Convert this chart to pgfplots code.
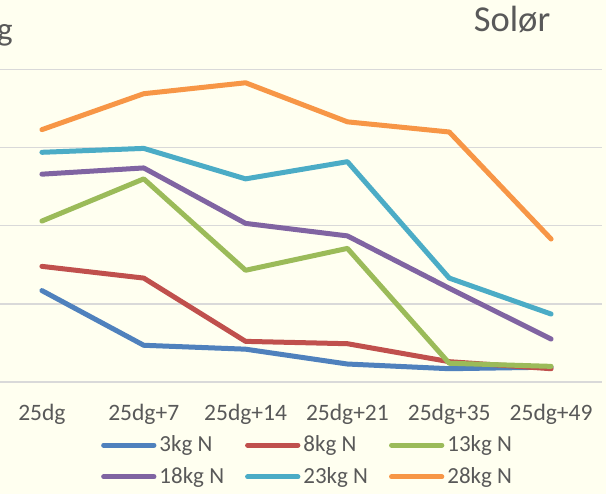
\documentclass[border=0pt]{standalone}
\usepackage{pgfplots}
\pgfplotsset{compat=1.18}
\usepackage{fontspec}
\setmainfont{Carlito}
\definecolor{bgc}{RGB}{255,255,240}
\definecolor{gridc}{RGB}{217,217,217}
\definecolor{txt}{RGB}{89,89,89}
\definecolor{c1}{RGB}{79,129,189}
\definecolor{c2}{RGB}{192,80,77}
\definecolor{c3}{RGB}{155,187,89}
\definecolor{c4}{RGB}{128,100,162}
\definecolor{c5}{RGB}{75,172,198}
\definecolor{c6}{RGB}{247,150,70}
\begin{document}
\begin{tikzpicture}[x=1pt,y=1pt]
\useasboundingbox (0,0) rectangle (606,494);
\fill[bgc] (0,0) rectangle (606,494);
\node[anchor=base west, inner sep=0pt, text=txt, font=\fontsize{33}{40}\selectfont] at (-3,453.6) {g};
\node[anchor=base east, inner sep=0pt, text=txt, font=\fontsize{36.5}{44}\selectfont] at (550.5,462.5) {Solør};
\node[anchor=base west, inner sep=0pt, text=black, font=\fontsize{37}{44}\selectfont] at (212,498) {\_};
\begin{axis}[
  at={(-9pt,112pt)}, anchor=south west,
  scale only axis, width=611pt, height=312.5pt,
  xmin=-0.5, xmax=5.5, ymin=0, ymax=4,
  axis line style={draw=none},
  tick style={draw=none},
  ytick={0,1,2,3,4}, yticklabels={},
  ymajorgrids, major grid style={gridc, line width=1.5pt},
  xtick={0,1,2,3,4,5},
  xticklabels={25dg,25dg+7,25dg+14,25dg+21,25dg+35,25dg+49},
  xticklabel style={anchor=base, yshift=-39pt, text=txt, font=\fontsize{23.5}{28}\selectfont},
  every axis plot/.append style={line width=5pt, line join=round, line cap=round, mark=none},
  legend columns=3,
  legend cell align=left,
  legend image code/.code={\draw[#1, line width=5pt, line cap=round] (0pt,0pt) -- (50.3pt,0pt);},
  legend style={at={(0.1803,-0.1686)}, anchor=north west, draw=none, fill=none,
    inner sep=0pt, outer sep=0pt, row sep=10.6pt,
    font=\fontsize{23}{28}\selectfont, text=txt,
    nodes={inner sep=0pt, text height=17pt, text depth=4pt},
    /tikz/every odd column/.append style={column sep=3pt},
    /tikz/every even column/.append style={column sep=21pt}},
]
\addplot[c1] coordinates {(0,1.17) (1,0.47) (2,0.42) (3,0.23) (4,0.17) (5,0.19)};
\addplot[c2] coordinates {(0,1.48) (1,1.33) (2,0.52) (3,0.49) (4,0.26) (5,0.17)};
\addplot[c3] coordinates {(0,2.06) (1,2.60) (2,1.43) (3,1.71) (4,0.24) (5,0.20)};
\addplot[c4] coordinates {(0,2.66) (1,2.74) (2,2.03) (3,1.87) (4,1.20) (5,0.55)};
\addplot[c5] coordinates {(0,2.94) (1,2.99) (2,2.60) (3,2.82) (4,1.33) (5,0.87)};
\addplot[c6] coordinates {(0,3.23) (1,3.69) (2,3.83) (3,3.33) (4,3.20) (5,1.83)};
\legend{3kg N,8kg N,13kg N,18kg N,23kg N,28kg N}
\end{axis}
\end{tikzpicture}
\end{document}
